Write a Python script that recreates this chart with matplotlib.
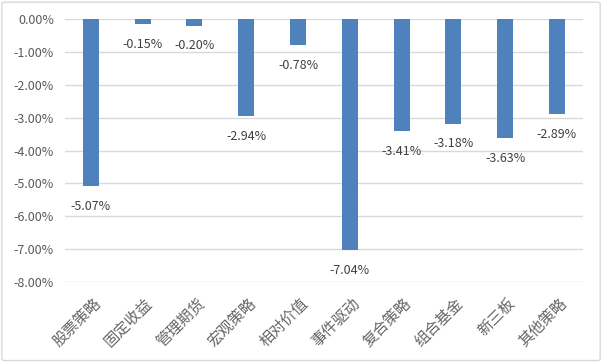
import numpy as np
import matplotlib.pyplot as plt
from matplotlib.patches import FancyBboxPatch
from matplotlib.transforms import blended_transform_factory

plt.rcParams['font.family'] = ['Noto Sans CJK SC', 'DejaVu Sans']

categories = ["股票策略", "固定收益", "管理期货", "宏观策略", "相对价值",
              "事件驱动", "复合策略", "组合基金", "新三板", "其他策略"]
values = [-5.07, -0.15, -0.20, -2.94, -0.78, -7.04, -3.41, -3.18, -3.63, -2.89]

text_color = "#595959"

fig = plt.figure(figsize=(6.02, 3.62), dpi=100)
ax = fig.add_axes([0.108, 0.221, 0.860, 0.7265])

x = np.arange(len(categories))
ax.bar(x, values, width=0.31, color="#4f81bd", zorder=3)

# data labels under the bar ends
for xi, v in zip(x, values):
    ax.annotate(f"{v:.2f}%", (xi, v), xytext=(0, -10), textcoords="offset points",
                ha="center", va="top", fontsize=9, color="#404040")

ax.set_ylim(-8, 0)
ax.set_xlim(-0.5, len(categories) - 0.5)
yt = np.arange(-8, 0.5, 1)
ax.set_yticks(yt)
ax.set_yticklabels([f"{t:.2f}%" for t in yt])
ax.yaxis.grid(True, color="#d9d9d9", linewidth=1, zorder=0)
ax.tick_params(axis="y", length=0, labelsize=9, labelcolor=text_color, pad=8)
ax.set_xticks([])

for s in ax.spines.values():
    s.set_visible(False)

# category labels placed below the -8% line
trans = blended_transform_factory(ax.transData, ax.transAxes)
for xi, c in zip(x, categories):
    ax.annotate(c, (xi, 0), xycoords=trans, xytext=(1, -9), textcoords="offset points",
                rotation=45, ha="right", va="top", rotation_mode="anchor",
                fontsize=11, color="#666666")

border = FancyBboxPatch((0.003, 0.004), 0.994, 0.990, boxstyle="round,pad=0,rounding_size=0.005",
                        transform=fig.transFigure, fill=False, edgecolor="#d9d9d9", linewidth=1)
fig.patches.append(border)

fig.savefig("out.png", dpi=100)
